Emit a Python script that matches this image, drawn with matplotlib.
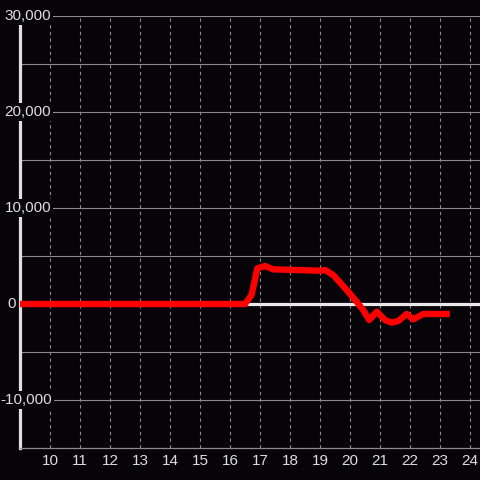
import matplotlib.pyplot as plt
from matplotlib.transforms import blended_transform_factory

# hour of day vs. cumulative value
hours = [9.0, 16.5, 16.72, 16.91, 17.17, 17.44, 19.0, 19.17, 19.44, 19.89,
         20.22, 20.44, 20.64, 20.89, 21.17, 21.39, 21.61, 21.89, 22.11, 22.44, 23.22]
values = [0, 0, 940, 3720, 3960, 3610, 3470, 3540, 3020, 1460,
          240, -625, -1670, -800, -1670, -1940, -1770, -1040, -1600, -1040, -1040]

y_ticks = [30000, 20000, 10000, 0, -10000]
y_labels = ["30,000", "20,000", "10,000", "0", "-10,000"]
x_ticks = list(range(10, 25))

BG = "#060408"
TXT = "#dddddd"
GRID = "#8a8a8a"

fig = plt.figure(figsize=(4.8, 4.8), dpi=100)
fig.patch.set_facecolor(BG)
ax = fig.add_axes([20 / 480, 32 / 480, 460 / 480, 432 / 480])
ax.set_facecolor(BG)
ax.set_xlim(9.0, 9.0 + 460 / 30)
ax.set_ylim(-15000, 30000)

for s in ["top", "right"]:
    ax.spines[s].set_visible(False)
ax.spines["left"].set_color("#e0e0e0")
ax.spines["left"].set_linewidth(2.3)
ax.spines["bottom"].set_color(GRID)
ax.spines["bottom"].set_linewidth(0.9)
ax.set_xticks([])
ax.set_yticks([])

# grid
for y in range(-10000, 30001, 5000):
    if y == 0:
        continue
    ax.axhline(y, color=GRID, lw=0.8, zorder=1)
for x in x_ticks:
    ax.axvline(x, color=GRID, lw=0.8, ls=(0, (3, 3)), zorder=1)
ax.axhline(0, color="#e8e8e8", lw=2.3, zorder=2)

ax.plot(hours, values, color="#ff0000", lw=4.6, zorder=3,
        solid_joinstyle="round", solid_capstyle="projecting")

# labels
tr = blended_transform_factory(fig.transFigure, ax.transData)
x_right = {"30,000": 51, "20,000": 51, "10,000": 51, "0": 16, "-10,000": 52}
for v, lab in zip(y_ticks, y_labels):
    ax.text(x_right[lab] / 480, v, lab, transform=tr, ha="right", va="center",
            color=TXT, fontsize=11, family="Liberation Sans", zorder=5,
            bbox=dict(boxstyle="square,pad=0.1", fc=BG, ec="none"))

trx = blended_transform_factory(ax.transData, fig.transFigure)
for x in x_ticks:
    ax.text(x, (480 - 461) / 480, str(x), transform=trx, ha="center", va="center",
            color=TXT, fontsize=11, family="Liberation Sans")

fig.savefig("out.png", dpi=100, facecolor=BG)
